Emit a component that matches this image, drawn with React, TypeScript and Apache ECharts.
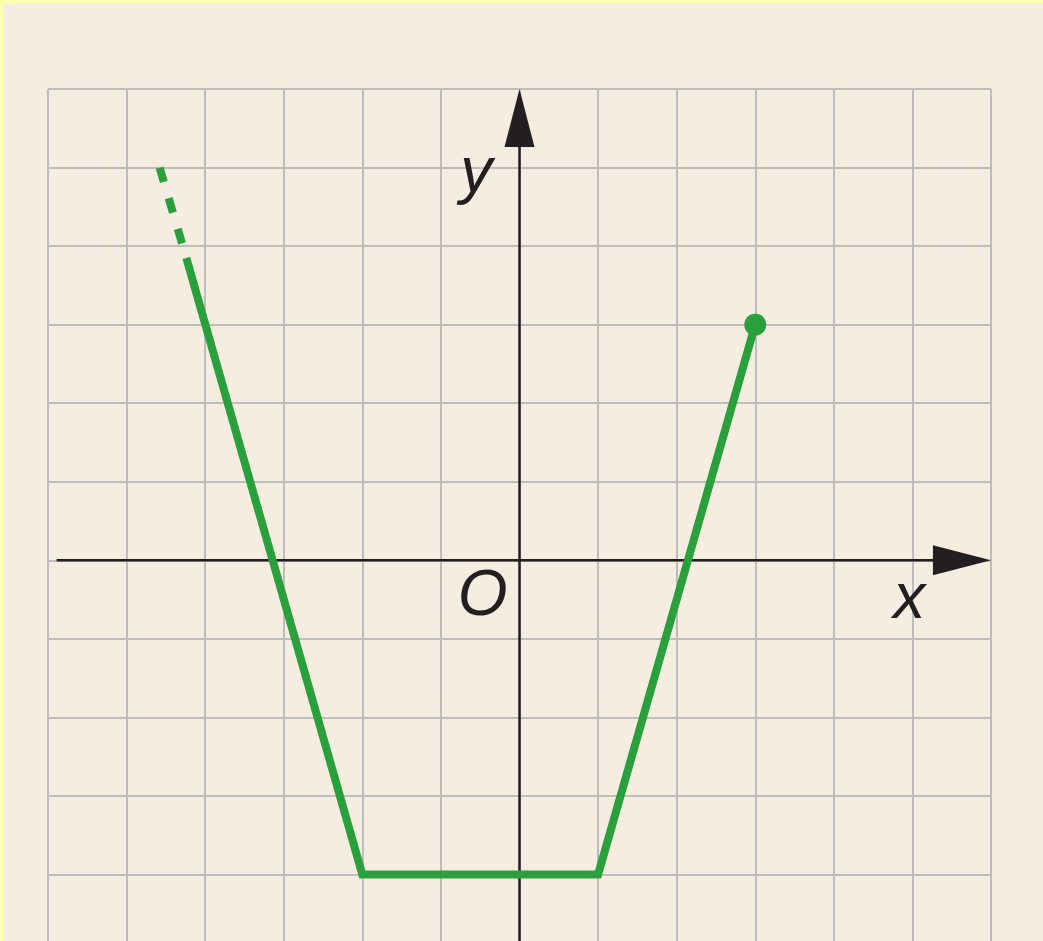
import React, { useEffect, useRef } from "react";
import * as echarts from "echarts";

const X_MIN = -6;
const X_MAX = 6;
const Y_MIN = -5;
const Y_MAX = 6;
const STEP = 1;

// graph of the function
const solidPath: number[][] = [
  [-4.24, 3.85],
  [-2, -4],
  [1, -4],
  [3, 3],
];
const dashedPath: number[][] = [
  [-4.58, 5],
  [-4.24, 3.85],
];
const endPoint: number[] = [3, 3];

// coordinate axes
const xAxisLinePts: number[][] = [
  [-5.89, 0],
  [5.7, 0],
];
const yAxisLinePts: number[][] = [
  [0, -5],
  [0, 5.7],
];
const xArrow: number[] = [5.63, 0];
const yArrow: number[] = [0, 5.63];

const axisLabels = [
  { text: "x", pos: [4.96, -0.46] },
  { text: "y", pos: [-0.55, 4.97] },
  { text: "O", pos: [-0.47, -0.42] },
];

const GREEN = "#2AA03C";
const INK = "#231F20";

export default function App() {
  const ref = useRef<HTMLDivElement>(null);

  useEffect(() => {
    document.body.style.margin = "0";
    document.body.style.overflow = "hidden";
    const chart = echarts.init(ref.current!, null, { renderer: "svg" });
    chart.setOption({
      animation: false,
      backgroundColor: "#F5EEE0",
      grid: { left: 48, top: 89, width: 943, height: 864 },
      xAxis: {
        type: "value",
        min: X_MIN,
        max: X_MAX,
        interval: STEP,
        axisLine: { show: false },
        axisTick: { show: false },
        axisLabel: { show: false },
        splitLine: { show: true, lineStyle: { color: "#BDBDBD", width: 2 } },
      },
      yAxis: {
        type: "value",
        min: Y_MIN,
        max: Y_MAX,
        interval: STEP,
        axisLine: { show: false },
        axisTick: { show: false },
        axisLabel: { show: false },
        splitLine: { show: true, lineStyle: { color: "#BDBDBD", width: 2 } },
      },
      graphic: [
        { type: "rect", shape: { x: 0, y: 0, width: 1043, height: 3 }, style: { fill: "#FFFFB0" }, z: 100 },
        { type: "rect", shape: { x: 0, y: 0, width: 3, height: 980 }, style: { fill: "#FFFFB0" }, z: 100 },
      ],
      series: [
        {
          type: "line",
          data: xAxisLinePts,
          symbol: "none",
          lineStyle: { color: INK, width: 2.5 },
          z: 3,
        },
        {
          type: "line",
          data: yAxisLinePts,
          symbol: "none",
          lineStyle: { color: INK, width: 2.5 },
          z: 3,
        },
        {
          type: "scatter",
          data: [xArrow],
          symbol: "triangle",
          symbolSize: [30, 58],
          symbolRotate: -90,
          itemStyle: { color: INK, opacity: 1 },
          z: 4,
        },
        {
          type: "scatter",
          data: [yArrow],
          symbol: "triangle",
          symbolSize: [30, 58],
          itemStyle: { color: INK, opacity: 1 },
          z: 4,
        },
        {
          type: "line",
          data: dashedPath,
          symbol: "none",
          lineStyle: { color: GREEN, width: 8, type: [15, 17], cap: "butt" },
          z: 5,
        },
        {
          type: "line",
          data: solidPath,
          symbol: "none",
          lineStyle: { color: GREEN, width: 8, join: "miter" },
          z: 5,
        },
        {
          type: "scatter",
          data: [endPoint],
          symbol: "circle",
          symbolSize: 22,
          itemStyle: { color: GREEN, opacity: 1 },
          z: 6,
        },
        {
          type: "scatter",
          data: axisLabels.map((l) => ({ value: l.pos, name: l.text })),
          symbolSize: 1,
          itemStyle: { color: "rgba(0,0,0,0)", opacity: 1 },
          label: {
            show: true,
            position: "inside",
            formatter: (p: any) => p.name,
            fontFamily: "Liberation Sans",
            fontStyle: "italic",
            fontSize: 64,
            color: INK,
            opacity: 1,
          },
          z: 7,
        },
      ],
    });
    return () => chart.dispose();
  }, []);

  return <div ref={ref} style={{ width: 1043, height: 980 }} />;
}
